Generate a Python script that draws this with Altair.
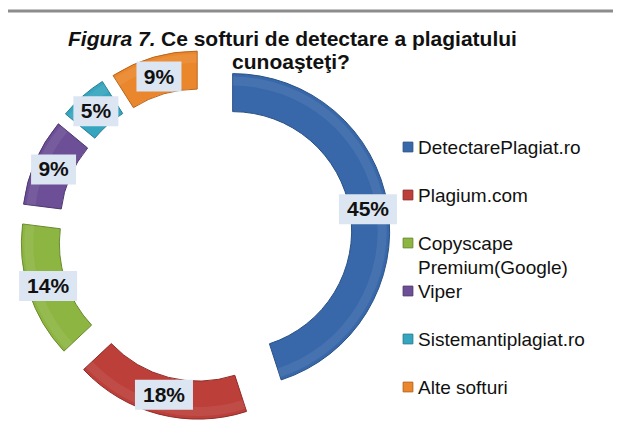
import altair as alt
import pandas as pd

# ---- data ----
categories = ["DetectarePlagiat.ro", "Plagium.com", "Copyscape Premium(Google)",
              "Viper", "Sistemantiplagiat.ro", "Alte softuri"]
legend_labels = ["DetectarePlagiat.ro", "Plagium.com", "Copyscape\nPremium(Google)",
                 "Viper", "Sistemantiplagiat.ro", "Alte softuri"]
values = [45, 18, 14, 9, 5, 9]
pct_labels = ["45%", "18%", "14%", "9%", "5%", "9%"]
colors = ["#3868AA", "#BC3F3A", "#8DB542", "#6C4F96", "#36A5BF", "#EA872D"]
dark_colors = ["#2A5285", "#8E2C28", "#6A8A2E", "#4E376E", "#287F93", "#B8661E"]

title_italic = "Figura 7."
title_rest = "Ce softuri de detectare a plagiatului"
title_line2 = "cunoaşteţi?"

# ---- geometry (pixels in plot area) ----
CX, CY = 197, 227
EXPLODE = 28
R_OUT, R_IN = 157, 119
LABEL_R = 165
FONT = "Liberation Sans, Arial, Helvetica, sans-serif"

df = pd.DataFrame({
    "order": list(range(len(categories))),
    "category": categories,
    "value": values,
    "label": pct_labels,
})

color_scale = alt.Scale(domain=categories, range=colors)
stroke_scale = alt.Scale(domain=categories, range=dark_colors)

base = (
    alt.Chart(df)
    .transform_window(cum="sum(value)", sort=[alt.SortField("order")], frame=[None, 0])
    .transform_joinaggregate(total="sum(value)")
    .transform_calculate(
        t0="2*PI*(datum.cum - datum.value)/datum.total",
        t1="2*PI*datum.cum/datum.total",
    )
    .transform_calculate(tm="(datum.t0 + datum.t1)/2")
    .transform_calculate(
        ax=f"{CX} + {EXPLODE}*sin(datum.tm)",
        ay=f"{CY} - {EXPLODE}*cos(datum.tm)",
        lx=f"{CX} + {LABEL_R}*sin(datum.tm)",
        ly=f"{CY} - {LABEL_R}*cos(datum.tm)",
        bw="13*length(datum.label) + 19",
    )
    .transform_calculate(
        bx0="datum.lx - datum.bw/2",
        bx1="datum.lx + datum.bw/2",
        by0="datum.ly - 15",
        by1="datum.ly + 15",
    )
)

arcs = base.mark_arc(innerRadius=R_IN, outerRadius=R_OUT, strokeWidth=1).encode(
    theta=alt.Theta("t0:Q", scale=None, stack=False),
    theta2="t1:Q",
    x=alt.X("ax:Q", scale=None),
    y=alt.Y("ay:Q", scale=None),
    color=alt.Color("category:N", scale=color_scale, legend=None),
    stroke=alt.Stroke("category:N", scale=stroke_scale, legend=None),
)

highlight = base.mark_arc(innerRadius=R_OUT - 12, outerRadius=R_OUT - 3,
                          color="white", opacity=0.07).encode(
    theta=alt.Theta("t0:Q", scale=None, stack=False),
    theta2="t1:Q",
    x=alt.X("ax:Q", scale=None),
    y=alt.Y("ay:Q", scale=None),
)

boxes = base.mark_rect(color="#DCE6F2").encode(
    x=alt.X("bx0:Q", scale=None), x2="bx1:Q",
    y=alt.Y("by0:Q", scale=None), y2="by1:Q",
)

texts = base.mark_text(font=FONT, fontSize=21, fontWeight="bold", color="#111111",
                       baseline="middle", align="center", dy=1).encode(
    x=alt.X("lx:Q", scale=None),
    y=alt.Y("ly:Q", scale=None),
    text="label:N",
)

# ---- legend ----
leg_df = pd.DataFrame({"order": list(range(len(categories))),
                       "category": categories, "text": legend_labels})
leg_base = alt.Chart(leg_df).transform_calculate(
    ly="139 + 48*datum.order", tb="145.5 + 48*datum.order"
)
leg_sq = leg_base.mark_square(size=95, strokeWidth=1, opacity=1).encode(
    x=alt.value(400),
    y=alt.Y("ly:Q", scale=None),
    color=alt.Color("category:N", scale=color_scale, legend=None),
    stroke=alt.Stroke("category:N", scale=stroke_scale, legend=None),
)
leg_txt = leg_base.mark_text(font=FONT, fontSize=19, align="left", baseline="alphabetic",
                             lineBreak="\n", lineHeight=24, color="#111111").encode(
    x=alt.value(410),
    y=alt.Y("tb:Q", scale=None),
    text="text:N",
)

# ---- title & top rule ----
one = pd.DataFrame({"a": [0]})
rule = alt.Chart(one).mark_rule(color="#8C8C8C", strokeWidth=3).encode(
    x=alt.value(-1), x2=alt.value(610), y=alt.value(3)
)
t1 = alt.Chart(one).mark_text(font=FONT, fontSize=21, fontWeight="bold", fontStyle="italic",
                              align="left", baseline="alphabetic", color="#111111",
                              text=title_italic).encode(x=alt.value(60), y=alt.value(38))
t2 = alt.Chart(one).mark_text(font=FONT, fontSize=21, fontWeight="bold",
                              align="left", baseline="alphabetic", color="#111111",
                              text=title_rest).encode(x=alt.value(153), y=alt.value(38))
t3 = alt.Chart(one).mark_text(font=FONT, fontSize=21, fontWeight="bold",
                              align="center", baseline="alphabetic", color="#111111",
                              text=title_line2).encode(x=alt.value(283), y=alt.value(61))

chart = alt.layer(rule, arcs, highlight, boxes, texts, leg_sq, leg_txt, t1, t2, t3).properties(
    width=605, height=420, padding=0, autosize="none", background="white"
).configure_view(stroke=None)

chart.save("out.html", embed_options={"renderer": "svg", "actions": False})
